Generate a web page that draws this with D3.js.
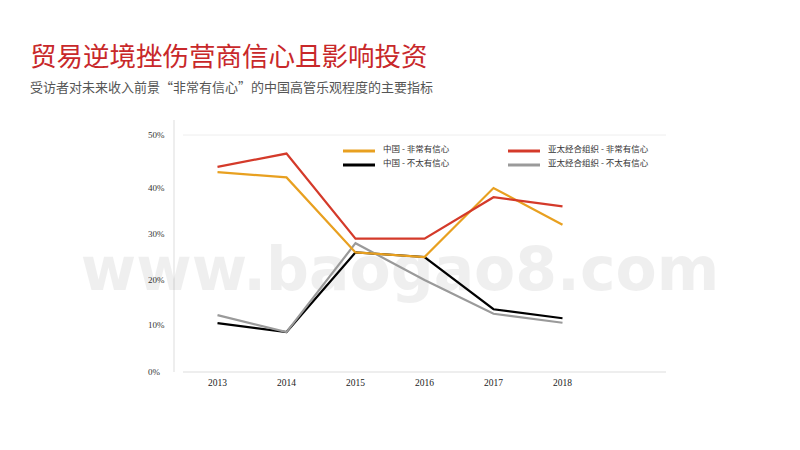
<!DOCTYPE html><html><head><meta charset="utf-8"><script src="https://cdn.jsdelivr.net/npm/d3@7"></script>
<style>body{margin:0;background:#fff}</style></head><body><svg id="c" width="800" height="450"></svg><script>
const years=["2013","2014","2015","2016","2017","2018",""];
const chinaVery=[43,42,26,25,40,32];
const apecVery=[44,46.5,29,29,38,36];
const chinaNot=[10.4,8.5,26,25,13.5,11.5];
const apecNot=[12.2,8.5,28,20,12.5,10.5];
const yTicks=[0,10,20,30,40,50];
const series=[
 {name:"中国 - 非常有信心",v:chinaVery,c:"#e8a020"},
 {name:"亚太经合组织 - 非常有信心",v:apecVery,c:"#d43a2a"},
 {name:"中国 - 不太有信心",v:chinaNot,c:"#000"},
 {name:"亚太经合组织 - 不太有信心",v:apecNot,c:"#9a9a9a"}];
const svg=d3.select("#c");
const f="'Noto Sans CJK SC',sans-serif";
svg.append("text").attr("x",30).attr("y",66).attr("font-family",f).attr("font-size",26.5).attr("fill","#c8282a").text("贸易逆境挫伤营商信心且影响投资");
svg.append("text").attr("x",30).attr("y",92).attr("font-family",f).attr("font-size",13).attr("fill","#555").text("受访者对未来收入前景“非常有信心”的中国高管乐观程度的主要指标");
svg.append("line").attr("x1",174).attr("x2",174).attr("y1",120).attr("y2",372).attr("stroke","#ddd");
const x=d3.scalePoint().domain(years).range([183,666]).padding(0.5);
const y=d3.scaleLinear().domain(yTicks).range([372,325,280,234,188,135]);
svg.append("line").attr("x1",183).attr("x2",666).attr("y1",372).attr("y2",372).attr("stroke","#ddd");
svg.append("line").attr("x1",183).attr("x2",666).attr("y1",135).attr("y2",135).attr("stroke","#eee");
svg.append("text").attr("x",400).attr("y",290).attr("text-anchor","middle").attr("font-family","'DejaVu Sans',sans-serif").attr("font-size",60).attr("font-weight","bold").attr("fill","#000").attr("opacity",0.06).text("www.baogao8.com");
svg.selectAll(".yt").data(yTicks).join("text").attr("x",148).attr("y",d=>y(d)+3).attr("font-family","'Liberation Serif',serif").attr("font-size",9).attr("fill","#333").text(d=>d+"%");
svg.selectAll(".xt").data(years.slice(0,6)).join("text").attr("x",d=>x(d)).attr("y",386).attr("text-anchor","middle").attr("font-family","'Liberation Serif',serif").attr("font-size",9.5).attr("fill","#222").text(d=>d);
const line=d3.line().x((d,i)=>x(years[i])).y(d=>y(d));
[2,3,0,1].forEach(k=>{const s=series[k];svg.append("path").attr("d",line(s.v)).attr("fill","none").attr("stroke",s.c).attr("stroke-width",2.2);});
series.forEach((s,i)=>{const lx=i%2?508:343,ly=i<2?151:165;
 svg.append("line").attr("x1",lx).attr("x2",lx+32).attr("y1",ly).attr("y2",ly).attr("stroke",s.c).attr("stroke-width",3);
 svg.append("text").attr("x",lx+40).attr("y",ly+1).attr("font-family",f).attr("font-size",8.5).attr("fill","#333").text(s.name);});
</script></body></html>
